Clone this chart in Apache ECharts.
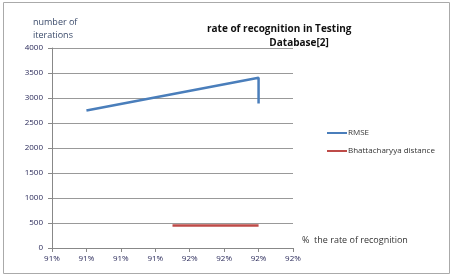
<!DOCTYPE html>
<html lang="en">
<head>
    <meta charset="UTF-8">
    <title>rate of recognition</title>
    <script src="https://cdn.jsdelivr.net/npm/echarts@6/dist/echarts.min.js"></script>
    <style>
        html, body { margin: 0; padding: 0; background: #fff; }
        #main { width: 454px; height: 279px; }
    </style>
</head>
<body>
<div id="main"></div>
<script type="text/javascript">
    // tick labels along x (positions 0..7)
    var xTickLabels = ['91%', '91%', '91%', '91%', '92%', '92%', '92%', '92%'];
    // [x position, iterations]
    var rmse = [[1, 2750], [6, 3405], [6, 2890]];
    var bhatta = [[3.5, 450], [6, 450]];

    var myChart = echarts.init(document.getElementById('main'));
    var labelColor = '#2a2a5a';
    var option = {
        animation: false,
        title: {
            text: 'rate of recognition in Testing\n                        Database[2]',
            left: 202,
            top: 17,
            textStyle: { fontFamily: 'Open Sans', fontSize: 10, fontWeight: 'bold', color: '#111', lineHeight: 14 }
        },
        legend: {
            orient: 'vertical',
            left: 322,
            top: 124,
            itemWidth: 20,
            itemHeight: 2,
            itemGap: 10,
            icon: 'rect',
            textStyle: { fontFamily: 'Open Sans', fontSize: 8, color: '#333', padding: [0, 0, 0, -4] },
            data: ['RMSE', 'Bhattacharyya distance']
        },
        grid: { left: 52, right: 161, top: 48, bottom: 31 },
        xAxis: {
            type: 'value',
            min: 0, max: 7, interval: 1,
            splitLine: { show: false },
            axisLine: { lineStyle: { color: '#888' } },
            axisTick: { show: true, length: 4, lineStyle: { color: '#888' } },
            axisLabel: {
                margin: 7, fontFamily: 'Open Sans', fontSize: 8, color: labelColor,
                formatter: function (v) { return xTickLabels[Math.round(v)]; }
            }
        },
        yAxis: {
            type: 'value',
            min: 0, max: 4000, interval: 500,
            name: 'number of\niterations',
            nameLocation: 'end',
            nameGap: 6,
            nameTextStyle: { fontFamily: 'Open Sans', fontSize: 9, color: '#3a4a6a', align: 'left', padding: [0, 0, 0, -19], lineHeight: 13 },
            axisLine: { show: true, lineStyle: { color: '#888' } },
            axisTick: { show: true, length: 4, lineStyle: { color: '#888' } },
            splitLine: { lineStyle: { color: '#999', width: 1 } },
            axisLabel: {
                margin: 9, fontFamily: 'Open Sans', fontSize: 8, color: labelColor,
                formatter: function (v) { return String(v); }
            }
        },
        graphic: [
            {
                type: 'rect', shape: { x: 3.5, y: 2.5, width: 446, height: 271 },
                style: { fill: 'none', stroke: '#aaa', lineWidth: 1 }, z: -1
            },
            {
                type: 'text', left: 302, top: 236,
                style: { text: '%  the rate of recognition', font: '9px "Open Sans"', fill: '#333' }
            }
        ],
        series: [
            {
                name: 'RMSE', type: 'line', data: rmse,
                symbol: 'none', color: '#4a7ebb',
                lineStyle: { width: 2.5, color: '#4a7ebb' }
            },
            {
                name: 'Bhattacharyya distance', type: 'line', data: bhatta,
                symbol: 'none', color: '#be4b48',
                lineStyle: { width: 2.5, color: '#be4b48' }
            }
        ]
    };
    myChart.setOption(option);
</script>
</body>
</html>
